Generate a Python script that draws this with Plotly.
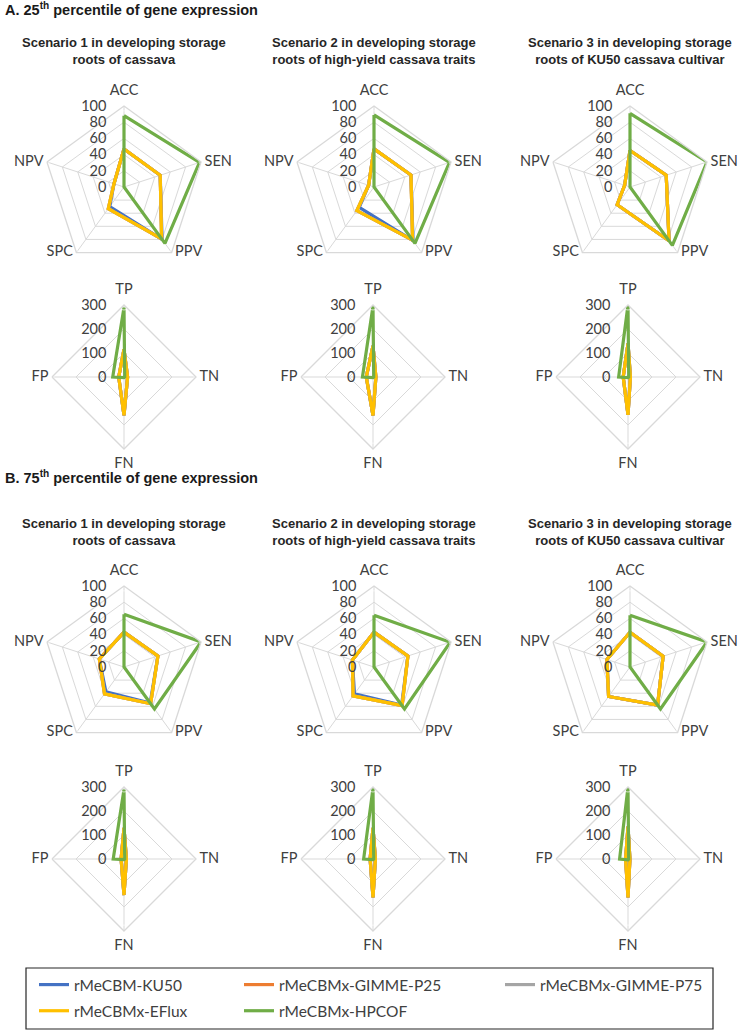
import plotly.graph_objects as go

W, H = 739, 1036

METRICS = ["ACC", "SEN", "PPV", "SPC", "NPV"]
COUNTS = ["TP", "TN", "FN", "FP"]
MODELS = ["rMeCBM-KU50", "rMeCBMx-GIMME-P25", "rMeCBMx-GIMME-P75",
          "rMeCBMx-EFlux", "rMeCBMx-HPCOF"]
COLORS = ["#4472C4", "#ED7D31", "#A5A5A5", "#FFC000", "#70AD47"]
SECTIONS = ["A. 25<sup>th</sup> percentile of gene expression",
            "B. 75<sup>th</sup> percentile of gene expression"]
SCENARIOS = ["Scenario 1 in developing storage<br>roots of cassava",
             "Scenario 2 in developing storage<br>roots of high-yield cassava traits",
             "Scenario 3 in developing storage<br>roots of KU50 cassava cultivar"]
METRIC_TICKS = [0, 20, 40, 60, 80, 100]
COUNT_TICKS = [0, 100, 200, 300]

# ---- 25th percentile: performance metrics (%), rows = scenario 1..3 ----
P25_MET_KU50 = [[47, 47, 80, 30, 13], [47, 48, 82, 31, 7], [45, 47, 82, 27, 7]]
P25_MET_GP25 = [[47, 47, 79, 33, 13], [47, 48, 81, 36, 7], [45, 47, 82, 27, 7]]
P25_MET_GP75 = [[47, 47, 79, 33, 13], [47, 48, 81, 36, 7], [45, 47, 82, 27, 7]]
P25_MET_EFLX = [[47, 47, 79, 33, 13], [47, 48, 81, 36, 7], [45, 47, 82, 27, 7]]
P25_MET_HPCO = [[88, 98, 86, 0, 0], [89, 98, 86, 0, 0], [91, 100, 89, 0, 0]]
# ---- 25th percentile: counts (TP, TN, FN, FP) ----
P25_CNT_KU50 = [[115, 15, 160, 22], [130, 12, 160, 28], [140, 10, 158, 20]]
P25_CNT_GP25 = [[115, 15, 160, 22], [130, 12, 160, 28], [140, 10, 158, 20]]
P25_CNT_GP75 = [[115, 15, 160, 22], [130, 12, 160, 28], [140, 10, 158, 20]]
P25_CNT_EFLX = [[115, 15, 160, 22], [130, 12, 160, 28], [140, 10, 158, 20]]
P25_CNT_HPCO = [[290, 3, 3, 47], [295, 3, 3, 44], [300, 3, 3, 39]]
# ---- 75th percentile: performance metrics (%) ----
P75_MET_KU50 = [[43, 44, 55, 38, 32], [43, 44, 58, 41, 28], [43, 43, 58, 45, 30]]
P75_MET_GP25 = [[43, 44, 56, 41, 32], [43, 44, 59, 44, 28], [43, 43, 58, 45, 30]]
P75_MET_GP75 = [[43, 44, 56, 41, 32], [43, 44, 59, 44, 28], [43, 43, 58, 45, 30]]
P75_MET_EFLX = [[43, 44, 56, 41, 32], [43, 44, 59, 44, 28], [43, 43, 58, 45, 30]]
P75_MET_HPCO = [[65, 100, 64, 0, 0], [64, 99, 64, 0, 0], [64, 100, 64, 0, 0]]
# ---- 75th percentile: counts (TP, TN, FN, FP) ----
P75_CNT_KU50 = [[130, 10, 150, 12], [130, 10, 160, 12], [135, 8, 160, 10]]
P75_CNT_GP25 = [[130, 10, 150, 12], [130, 10, 160, 12], [135, 8, 160, 10]]
P75_CNT_GP75 = [[130, 10, 150, 12], [130, 10, 160, 12], [135, 8, 160, 10]]
P75_CNT_EFLX = [[130, 10, 150, 12], [130, 10, 160, 12], [135, 8, 160, 10]]
P75_CNT_HPCO = [[290, 3, 3, 45], [295, 3, 3, 39], [300, 3, 3, 35]]

DATA = {
    (0, "met"): [P25_MET_KU50, P25_MET_GP25, P25_MET_GP75, P25_MET_EFLX, P25_MET_HPCO],
    (0, "cnt"): [P25_CNT_KU50, P25_CNT_GP25, P25_CNT_GP75, P25_CNT_EFLX, P25_CNT_HPCO],
    (1, "met"): [P75_MET_KU50, P75_MET_GP25, P75_MET_GP75, P75_MET_EFLX, P75_MET_HPCO],
    (1, "cnt"): [P75_CNT_KU50, P75_CNT_GP25, P75_CNT_GP75, P75_CNT_EFLX, P75_CNT_HPCO],
}

# ---- geometry / styling (pixels) ----
MET_CX = [124, 374, 630]
CNT_CX = [124, 373, 628]
MET_CY = [187, 667]
CNT_CY = [377, 859]
MET_R = 81
CNT_R = 72
TITLE_Y = [9, 477]
SUB_Y = [51, 532]
# where each category label sits relative to its axis end (Excel style)
MET_LABEL_POS = ["top center", "middle right", "middle right", "middle left", "middle left"]
CNT_LABEL_POS = ["top center", "middle right", "bottom center", "middle left"]
LABEL_PAD = {"top": 10, "bottom": 12, "middle": 4}

TXT = "#404040"
GRID = "#D9D9D9"
FONT = "Lato, Carlito, Calibri, sans-serif"

fig = go.Figure()
layout = {}
idx = 0
legend_map = {0: "legend", 1: "legend2", 2: "legend3", 3: "legend", 4: "legend2"}

for sec in range(2):
    for kind in ["met", "cnt"]:
        cats = METRICS if kind == "met" else COUNTS
        ticks = METRIC_TICKS if kind == "met" else COUNT_TICKS
        lpos = MET_LABEL_POS if kind == "met" else CNT_LABEL_POS
        R = MET_R if kind == "met" else CNT_R
        cy = MET_CY[sec] if kind == "met" else CNT_CY[sec]
        cxs = MET_CX if kind == "met" else CNT_CX
        for sc in range(3):
            idx += 1
            pname = "polar" if idx == 1 else f"polar{idx}"
            cx = cxs[sc]
            layout[pname] = dict(
                domain=dict(x=[(cx - R) / W, (cx + R) / W],
                            y=[1 - (cy + R) / H, 1 - (cy - R) / H]),
                gridshape="linear",
                bgcolor="rgba(0,0,0,0)",
                radialaxis=dict(range=[0, ticks[-1]], tickvals=ticks,
                                angle=90, side="counterclockwise",
                                showline=False, gridcolor=GRID, gridwidth=1.3,
                                ticks="outside", ticklen=12,
                                tickcolor="rgba(0,0,0,0)",
                                tickfont=dict(family=FONT, size=14.5, color=TXT),
                                tickangle=90),
                angularaxis=dict(rotation=90, direction="clockwise",
                                 categoryorder="array", categoryarray=cats,
                                 showline=True, linecolor=GRID, linewidth=1.3,
                                 gridcolor=GRID, gridwidth=1.3,
                                 ticks="", showticklabels=False),
            )
            for m, (name, col) in enumerate(zip(MODELS, COLORS)):
                vals = DATA[(sec, kind)][m][sc]
                fig.add_trace(go.Scatterpolar(
                    r=list(vals) + [vals[0]],
                    theta=list(cats) + [cats[0]],
                    mode="lines",
                    line=dict(color=col, width=3.2),
                    name=name,
                    legend=legend_map[m],
                    legendgroup=name,
                    showlegend=(idx == 1),
                    subplot=pname,
                    hoverinfo="skip",
                ))
            # category labels placed at the end of each axis spoke
            fig.add_trace(go.Scatterpolar(
                r=[ticks[-1]] * len(cats),
                theta=cats,
                mode="markers+text",
                text=cats,
                textposition=lpos,
                marker=dict(size=[LABEL_PAD[p.split(" ")[0]] for p in lpos],
                            color="rgba(0,0,0,0)"),
                textfont=dict(family=FONT, size=14.5, color=TXT),
                cliponaxis=False,
                showlegend=False,
                subplot=pname,
                hoverinfo="skip",
            ))

annotations = []
for sec in range(2):
    annotations.append(dict(
        text="<b>" + SECTIONS[sec] + "</b>", x=3 / W, y=1 - TITLE_Y[sec] / H,
        xref="paper", yref="paper", xanchor="left", yanchor="middle",
        showarrow=False,
        font=dict(family="Liberation Sans, Arial", size=14.5, color="#1a1a1a")))
    for sc in range(3):
        annotations.append(dict(
            text="<b>" + SCENARIOS[sc] + "</b>", x=MET_CX[sc] / W,
            y=1 - SUB_Y[sec] / H, xref="paper", yref="paper",
            xanchor="center", yanchor="middle", showarrow=False, align="center",
            font=dict(family="Liberation Sans, Arial", size=13, color="#262626")))

leg_common = dict(orientation="v", bgcolor="rgba(0,0,0,0)", borderwidth=0,
                  yanchor="top", xanchor="left", tracegroupgap=3,
                  font=dict(family=FONT, size=15.5, color=TXT), itemwidth=30)
fig.update_layout(
    width=W, height=H,
    margin=dict(l=0, r=0, t=0, b=0),
    paper_bgcolor="white",
    showlegend=True,
    legend=dict(x=34 / W, y=1 - 968 / H, **leg_common),
    legend2=dict(x=239 / W, y=1 - 968 / H, **leg_common),
    legend3=dict(x=500 / W, y=1 - 968 / H, **leg_common),
    annotations=annotations,
    shapes=[dict(type="rect", xref="paper", yref="paper",
                 x0=26 / W, x1=713 / W, y0=1 - 1029 / H, y1=1 - 968 / H,
                 line=dict(color="#262626", width=1.2))],
    **layout,
)

# remove the browser's default 8px page margin so the figure sits at (0, 0)
fig.write_html("out.html",
               config={"displayModeBar": False},
               post_script="document.body.style.margin='0';"
                           "document.body.style.overflow='hidden';")
